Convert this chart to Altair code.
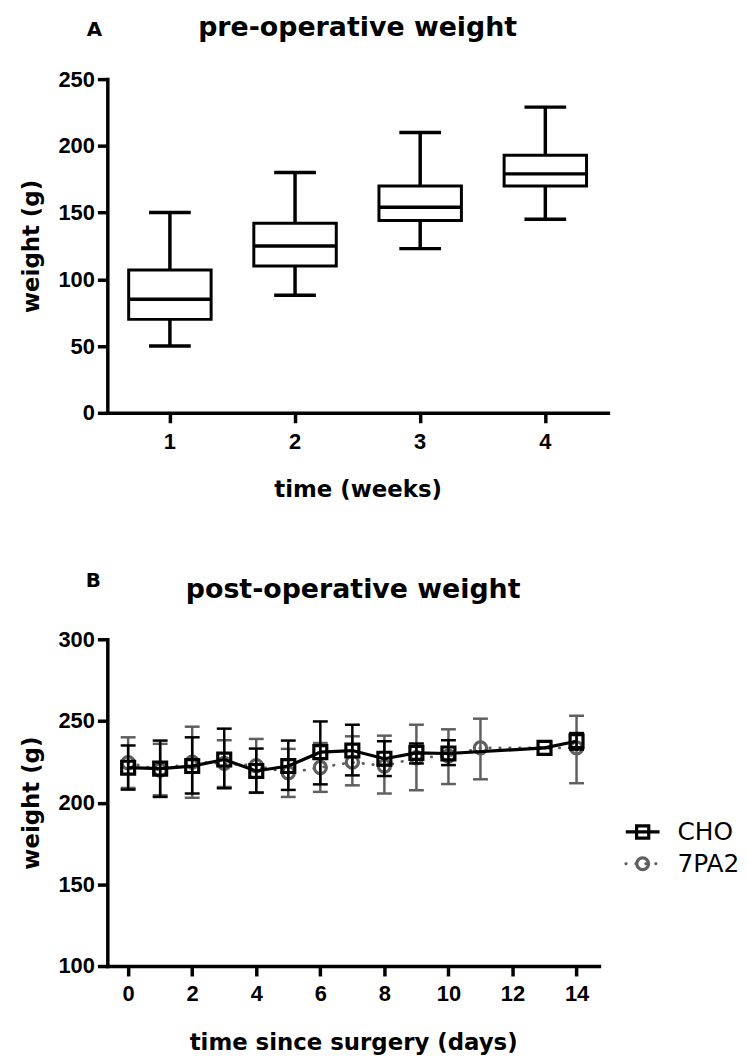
import altair as alt
import pandas as pd

# ---------------- data ----------------
weeks = ["1", "2", "3", "4"]
w_min = [50, 88, 123, 145]
w_q1 = [70, 110, 144, 170]
w_med = [85, 125, 154, 179]
w_q3 = [107, 142, 170, 193]
w_max = [150, 180, 210, 229]

cho_days = [0, 1, 2, 3, 4, 5, 6, 7, 8, 9, 10, 13, 14]
cho_mean = [221.4, 220.8, 222.4, 226.4, 219.4, 222.4, 230.9, 231.9, 226.9, 230.5, 230.1, 233.5, 237.6]
cho_lo = [208.0, 203.5, 205.6, 208.8, 206.2, 207.8, 211.2, 216.7, 216.3, 224.0, 223.0, 233.5, 232.5]
cho_hi = [235.0, 238.0, 240.0, 245.3, 233.1, 238.0, 249.7, 247.7, 237.6, 236.2, 238.2, 233.5, 242.6]

pa_days = [0, 1, 2, 3, 4, 5, 6, 7, 8, 9, 10, 11, 14]
pa_mean = [224.4, 220.0, 224.8, 224.0, 222.6, 218.3, 221.5, 224.8, 222.4, 227.5, 228.5, 233.5, 233.5]
pa_lo = [209.0, 204.5, 203.0, 209.6, 206.0, 203.5, 206.6, 210.6, 205.6, 207.6, 211.4, 214.3, 211.9]
pa_hi = [240.0, 236.0, 246.5, 238.2, 239.0, 232.9, 236.5, 240.6, 241.0, 247.7, 244.9, 251.4, 253.2]

series = ["CHO", "7PA2"]
panel_titles = ["pre-operative weight", "post-operative weight"]
panel_letters = ["A", "B"]
x_titles = ["time (weeks)", "time since surgery (days)"]
y_title = "weight (g)"

# ---------------- style ----------------
FONT = "DejaVu Sans"
TICKFONT = "Liberation Sans"
BLACK = "#000000"
GRAY = "#5f5f5f"
W1, H1 = 504, 336
W2, H2 = 495, 329
LW = 3.5

# ---------------- panel A ----------------
box_df = pd.DataFrame({"week": weeks, "min": w_min, "q1": w_q1, "med": w_med,
                       "q3": w_q3, "max": w_max})

xA = alt.X("week:O", scale=alt.Scale(type="band", paddingInner=0, paddingOuter=0),
           axis=alt.Axis(title=x_titles[0], labelAngle=0, labelFontSize=22,
                         labelPadding=9, titleY=77, titleBaseline="middle"))
axA = alt.Axis(values=[0, 50, 100, 150, 200, 250], title=y_title, labelFontSize=22,
               labelPadding=3, titleX=-76, titleY=H1 / 2, titleAngle=270,
               titleAlign="center", titleBaseline="middle")
scA = alt.Scale(domain=[0, 250], nice=False, zero=True)


def yA(f):
    return alt.Y(f"{f}:Q", scale=scA, axis=axA)


baseA = alt.Chart(box_df)
whisk = baseA.mark_rule(color=BLACK, strokeWidth=LW).encode(x=xA, y=yA("min"), y2="max")
box = baseA.mark_bar(size=83, fill="white", stroke=BLACK, strokeWidth=3).encode(
    x=xA, y=yA("q1"), y2="q3")
med = baseA.mark_tick(orient="horizontal", size=83, thickness=LW, color=BLACK,
                      opacity=1).encode(x=xA, y=yA("med"))
capLo = baseA.mark_tick(orient="horizontal", size=42, thickness=LW, color=BLACK,
                        opacity=1).encode(x=xA, y=yA("min"))
capHi = baseA.mark_tick(orient="horizontal", size=42, thickness=LW, color=BLACK,
                        opacity=1).encode(x=xA, y=yA("max"))

tA = pd.DataFrame({"t": [panel_titles[0]], "l": [panel_letters[0]]})
titleA = alt.Chart(tA).mark_text(font=FONT, fontWeight="bold", fontSize=27, color=BLACK,
                                 align="center", baseline="middle").encode(
    x=alt.value(W1 / 2), y=alt.value(-51), text="t:N")
letterA = alt.Chart(tA).mark_text(font=FONT, fontWeight="bold", fontSize=20, color=BLACK,
                                  align="center", baseline="middle").encode(
    x=alt.value(-13), y=alt.value(-49), text="l:N")

panelA = alt.layer(whisk, box, med, capLo, capHi, titleA, letterA).properties(
    width=W1, height=H1)

# ---------------- panel B ----------------
cho_df = pd.DataFrame({"day": cho_days, "mean": cho_mean, "lo": cho_lo, "hi": cho_hi})
pa_df = pd.DataFrame({"day": pa_days, "mean": pa_mean, "lo": pa_lo, "hi": pa_hi})

xB = alt.X("day:Q", scale=alt.Scale(domain=[-0.65, 14.7], nice=False, zero=False),
           axis=alt.Axis(values=list(range(0, 15, 2)), title=x_titles[1],
                         labelFontSize=22, labelPadding=8, titleY=77,
                         titleBaseline="middle"))
axB = alt.Axis(values=[100, 150, 200, 250, 300], title=y_title, labelFontSize=22,
               labelPadding=3, titleX=-76, titleY=H2 / 2, titleAngle=270,
               titleAlign="center", titleBaseline="middle")
scB = alt.Scale(domain=[100, 300], nice=False, zero=False)


def yB(f):
    return alt.Y(f"{f}:Q", scale=scB, axis=axB)


def series_layers(df, color, width, shape, size, dash):
    base = alt.Chart(df)
    err = base.mark_rule(color=color, strokeWidth=2.5).encode(x=xB, y=yB("lo"), y2="hi")
    c1 = base.mark_tick(orient="horizontal", size=15, thickness=2.5, color=color,
                        opacity=1).encode(x=xB, y=yB("lo"))
    c2 = base.mark_tick(orient="horizontal", size=15, thickness=2.5, color=color,
                        opacity=1).encode(x=xB, y=yB("hi"))
    if dash:
        line = base.mark_line(color=color, strokeWidth=2.8, strokeDash=[0.5, 9.5],
                              strokeCap="round").encode(x=xB, y=yB("mean"))
    else:
        line = base.mark_line(color=color, strokeWidth=width).encode(x=xB, y=yB("mean"))
    pts = base.mark_point(shape=shape, size=size, filled=False, color=color,
                          strokeWidth=3.2, opacity=1).encode(x=xB, y=yB("mean"))
    return [err, c1, c2, line, pts]


layersPA = series_layers(pa_df, GRAY, 2.8, "circle", 150, True)
layersCHO = series_layers(cho_df, BLACK, 3.2, "square", 170, False)

# legend (drawn from the series list)
leg_df = pd.DataFrame({"series": series})
legY = {"CHO": 194, "7PA2": 226}
leg_layers = []
for s, col, shp, sz, dash in [("CHO", BLACK, "square", 150, None),
                              ("7PA2", GRAY, "circle", 140, [0.5, 9.5])]:
    b = alt.Chart(leg_df).transform_filter(alt.datum.series == s)
    if dash:
        ln = b.mark_rule(color=col, strokeWidth=2.8, strokeDash=dash, strokeCap="round")
    else:
        ln = b.mark_rule(color=col, strokeWidth=3.2)
    leg_layers.append(ln.encode(x=alt.value(W2 + 27), x2=alt.value(W2 + 61),
                                y=alt.value(legY[s])))
    leg_layers.append(b.mark_point(shape=shp, size=sz, filled=False, color=col,
                                   strokeWidth=3.2, opacity=1).encode(
        x=alt.value(W2 + 44), y=alt.value(legY[s])))
    leg_layers.append(b.mark_text(font=FONT, fontSize=25, color=BLACK, align="left",
                                  baseline="middle").encode(
        x=alt.value(W2 + 79), y=alt.value(legY[s]), text="series:N"))

tB = pd.DataFrame({"t": [panel_titles[1]], "l": [panel_letters[1]]})
titleB = alt.Chart(tB).mark_text(font=FONT, fontWeight="bold", fontSize=27, color=BLACK,
                                 align="center", baseline="middle").encode(
    x=alt.value(W2 / 2), y=alt.value(-50), text="t:N")
letterB = alt.Chart(tB).mark_text(font=FONT, fontWeight="bold", fontSize=20, color=BLACK,
                                  align="center", baseline="middle").encode(
    x=alt.value(-14), y=alt.value(-59), text="l:N")

panelB = alt.layer(*layersPA, *layersCHO, *leg_layers, titleB, letterB).properties(
    width=W2, height=H2)

chart = alt.vconcat(panelA, panelB, spacing=70).properties(
    padding={"left": 13, "top": 3, "right": 0, "bottom": 0}
).configure_view(
    stroke=None
).configure_axis(
    domainColor=BLACK, domainWidth=LW, domainCap="square", tickColor=BLACK,
    tickWidth=LW, tickSize=10, labelFont=TICKFONT, labelFontWeight="bold",
    labelColor=BLACK, titleFont=FONT, titleFontWeight="bold", titleFontSize=23,
    titleColor=BLACK, grid=False
)

chart.save("out.html", embed_options={"renderer": "svg", "actions": False})
